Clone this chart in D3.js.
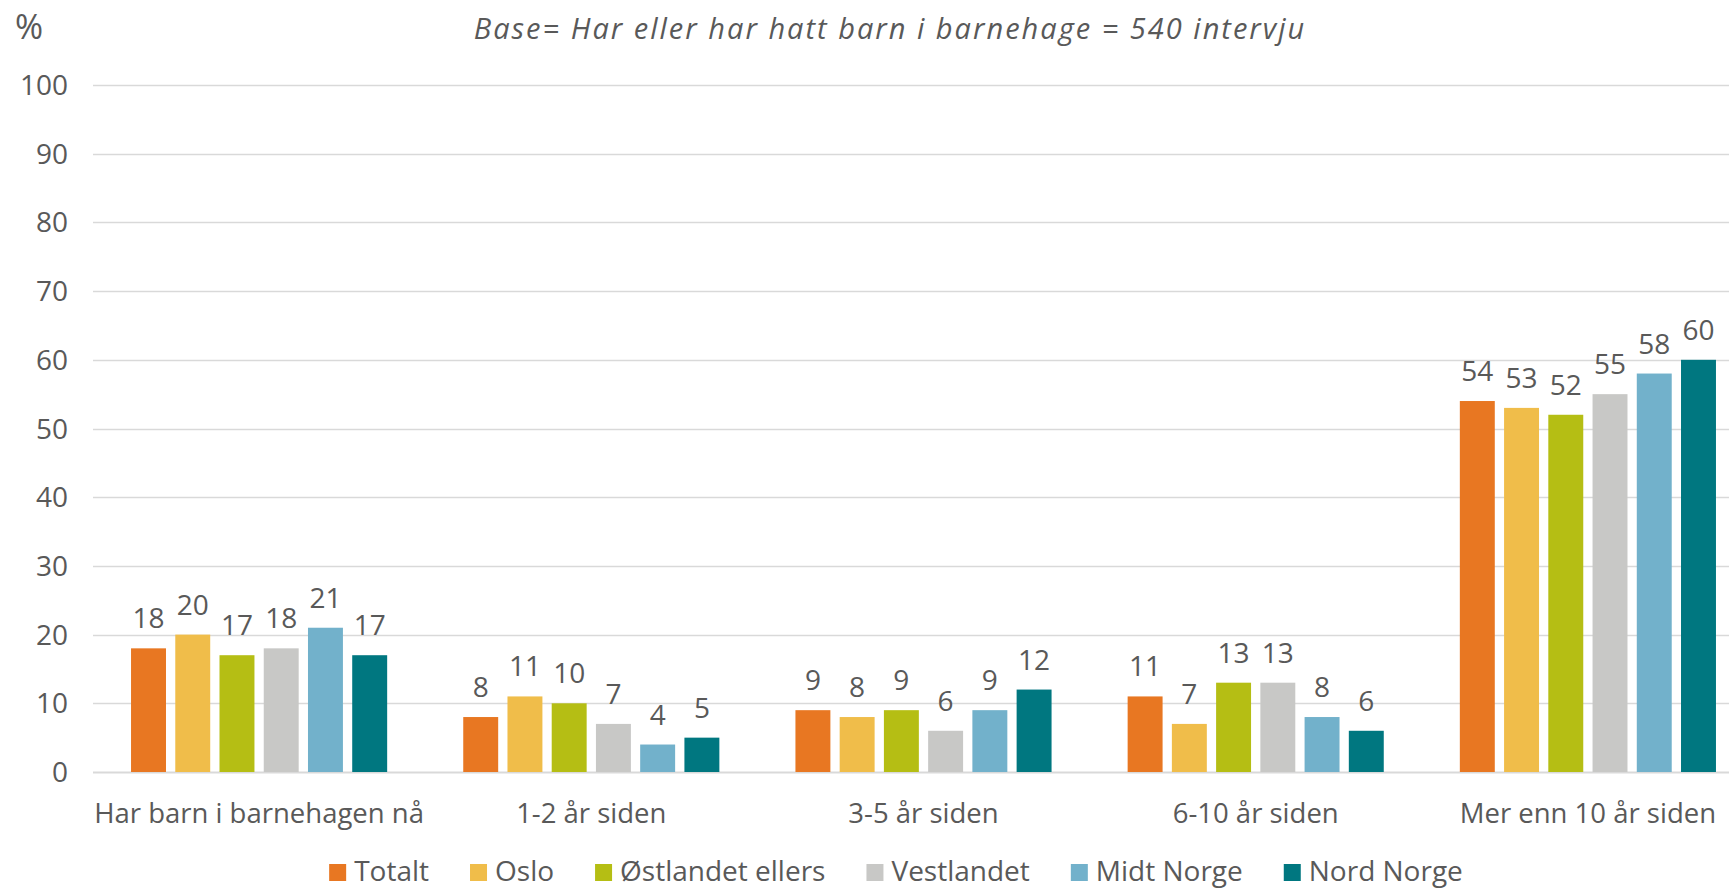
<!DOCTYPE html>
<html>
<head>
<meta charset="utf-8">
<script src="https://cdn.jsdelivr.net/npm/d3@7"></script>
<style>
  html, body { margin: 0; padding: 0; background: #fff; }
  svg { display: block; font-family: "Open Sans", "Noto Sans", sans-serif; }
</style>
</head>
<body>
<script>
// data
const categories = ["Har barn i barnehagen nå", "1-2 år siden", "3-5 år siden", "6-10 år siden", "Mer enn 10 år siden"];
const seriesNames = ["Totalt", "Oslo", "Østlandet ellers", "Vestlandet", "Midt Norge", "Nord Norge"];
const totalt     = [18, 8, 9, 11, 54];
const oslo       = [20, 11, 8, 7, 53];
const ostlandet  = [17, 10, 9, 13, 52];
const vestlandet = [18, 7, 6, 13, 55];
const midtNorge  = [21, 4, 9, 8, 58];
const nordNorge  = [17, 5, 12, 6, 60];
const yTicks = [0, 10, 20, 30, 40, 50, 60, 70, 80, 90, 100];
const subtitle = "Base= Har eller har hatt barn i barnehage = 540 intervju";

const seriesValues = [totalt, oslo, ostlandet, vestlandet, midtNorge, nordNorge];
const colors = ["#E87722", "#F0BD4A", "#B5BE14", "#C8C8C6", "#72B1CB", "#007780"];
const textColor = "#595959";

const W = 1729, H = 890;

const svg = d3.select("body").append("svg")
  .attr("width", W)
  .attr("height", H);

const x0 = d3.scaleBand()
  .domain(categories)
  .range([93, 1754])
  .paddingInner(0.229)
  .paddingOuter(0.1145);

const x1 = d3.scaleBand()
  .domain(seriesNames)
  .range([0, x0.bandwidth()])
  .paddingInner(0.21);

const y = d3.scaleLinear()
  .domain([0, 100])
  .range([772, 85]);

const color = d3.scaleOrdinal().domain(seriesNames).range(colors);

// gridlines
svg.append("g")
  .selectAll("line")
  .data(yTicks)
  .enter()
  .append("line")
  .attr("x1", 93)
  .attr("x2", 1754)
  .attr("y1", d => Math.round(y(d)) + 0.5)
  .attr("y2", d => Math.round(y(d)) + 0.5)
  .attr("stroke", "#D9D9D9")
  .attr("stroke-width", d => d === 0 ? 2 : 1.5);

// y tick labels
svg.append("g")
  .selectAll("text")
  .data(yTicks)
  .enter()
  .append("text")
  .attr("x", 68)
  .attr("y", d => y(d))
  .attr("dy", "0.36em")
  .attr("text-anchor", "end")
  .attr("fill", textColor)
  .style("font-size", "28px")
  .text(d => d);

// bars
const rows = categories.map((c, i) => ({
  category: c,
  values: seriesNames.map((s, j) => ({ series: s, value: seriesValues[j][i] }))
}));

const group = svg.append("g")
  .selectAll("g")
  .data(rows)
  .enter()
  .append("g")
  .attr("transform", d => "translate(" + x0(d.category) + ",0)");

group.selectAll("rect")
  .data(d => d.values)
  .enter()
  .append("rect")
  .attr("x", d => x1(d.series))
  .attr("y", d => y(d.value))
  .attr("width", x1.bandwidth())
  .attr("height", d => y(0) - y(d.value))
  .attr("fill", d => color(d.series));

group.selectAll("text")
  .data(d => d.values)
  .enter()
  .append("text")
  .attr("x", d => x1(d.series) + x1.bandwidth() / 2)
  .attr("y", d => y(d.value) - 20)
  .attr("text-anchor", "middle")
  .attr("fill", textColor)
  .style("font-size", "28px")
  .text(d => d.value);

// category labels
svg.append("g")
  .selectAll("text")
  .data(categories)
  .enter()
  .append("text")
  .attr("x", d => x0(d) + x0.bandwidth() / 2)
  .attr("y", 823)
  .attr("text-anchor", "middle")
  .attr("fill", textColor)
  .style("font-size", "27.5px")
  .text(d => d);

// subtitle and unit
svg.append("text")
  .attr("x", 890)
  .attr("y", 39)
  .attr("text-anchor", "middle")
  .attr("fill", textColor)
  .style("font-size", "29px")
  .style("font-style", "italic")
  .style("letter-spacing", "2px")
  .text(subtitle);

svg.append("text")
  .attr("x", 15)
  .attr("y", 39)
  .attr("fill", textColor)
  .style("font-size", "34px")
  .text("%");

// legend
const legend = svg.append("g").attr("class", "legend");
const box = 17, boxGap = 8, itemGap = 41;
let cursor = 0;
seriesNames.forEach(s => {
  const item = legend.append("g").attr("transform", "translate(" + cursor + ",0)");
  item.append("rect")
    .attr("x", 0)
    .attr("y", -box)
    .attr("width", box)
    .attr("height", box)
    .attr("fill", color(s));
  const t = item.append("text")
    .attr("x", box + boxGap)
    .attr("y", 0)
    .attr("fill", textColor)
    .style("font-size", "28px")
    .text(s);
  cursor += box + boxGap + t.node().getComputedTextLength() + itemGap;
});
cursor -= itemGap;
legend.attr("transform", "translate(" + (896 - cursor / 2) + ",881)");
</script>
</body>
</html>
